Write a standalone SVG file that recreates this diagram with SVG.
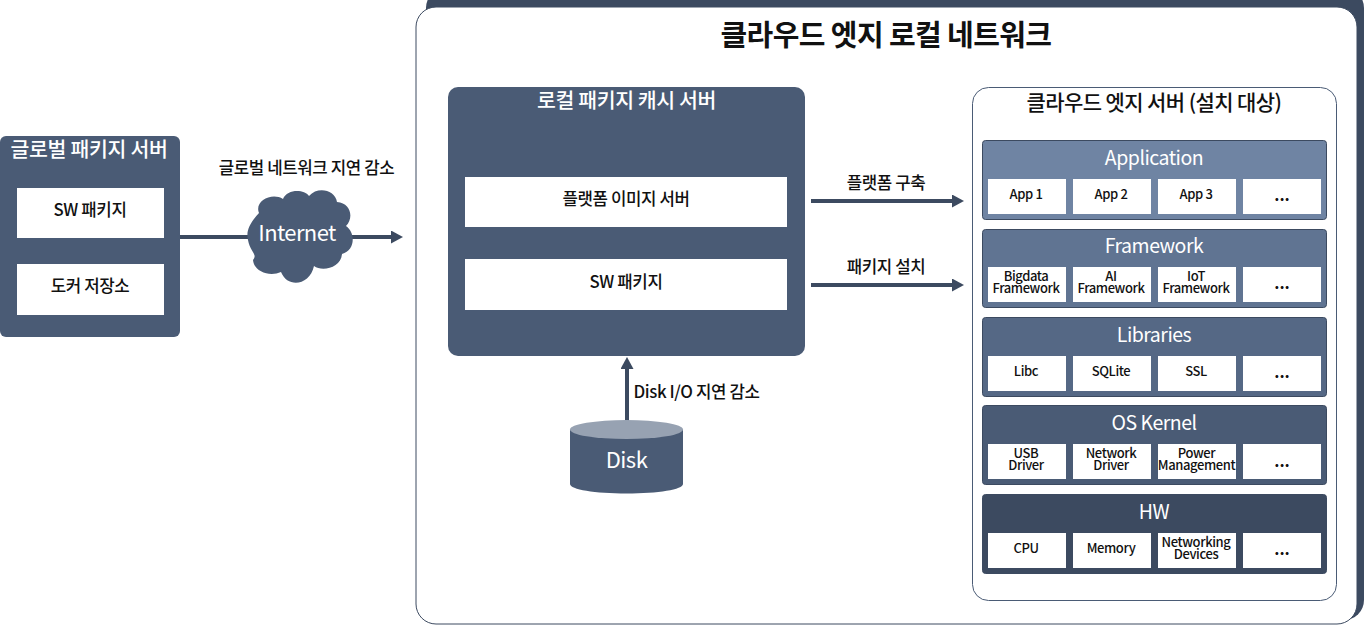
<svg xmlns="http://www.w3.org/2000/svg" width="1364" height="625" viewBox="0 0 1364 625">
<defs>
<style>
text{font-family:"Noto Sans CJK KR","Noto Sans",sans-serif;text-anchor:middle;font-weight:500;fill:#111}
.cell{fill:#fff}
.layer{stroke:#3c4a60;stroke-width:1}
.t{font-size:13px;letter-spacing:-.4px}
.lt{font-size:19.500px;letter-spacing:-.5px;fill:#fff;font-weight:400}
.md{font-size:16.800px;letter-spacing:-.4px}
.line{stroke:#3c4a60;stroke-width:4;fill:none}
.dots{font-size:16px;font-weight:700}
</style>
<marker id="ah" markerUnits="userSpaceOnUse" markerWidth="13" markerHeight="14" refX="1" refY="6.500" orient="auto"><path d="M0 0L12 6.500L0 13Z" fill="#3c4a60"/></marker>
</defs>
<rect width="1364" height="625" fill="#fff"/>
<g id="edge-network">
<rect x="426" y="-12" width="938" height="632" rx="20" fill="#3c4a60"/>
<rect x="416" y="7" width="941" height="617" rx="20" fill="#fff" stroke="#3c4a60" stroke-width="1"/>
<text x="886" y="46" style="font-weight:700;font-size:29px;letter-spacing:-.6px">클라우드 엣지 로컬 네트워크</text>
</g>
<g id="connectors">
<path class="line" d="M180 237H392" marker-end="url(#ah)"/>
<path class="line" d="M811 201H953" marker-end="url(#ah)"/>
<path class="line" d="M811 285H953" marker-end="url(#ah)"/>
<path class="line" d="M627 421V368" marker-end="url(#ah)"/>
</g>
<g id="global-server">
<rect x="0" y="136" width="180" height="201" rx="6" fill="#4a5b75"/>
<text x="89" y="157" style="font-size:20.500px;letter-spacing:-.3px;fill:#fff">글로벌 패키지 서버</text>
<rect class="cell" x="17" y="188" width="147" height="50"/>
<text x="90" y="216" class="md">SW 패키지</text>
<rect class="cell" x="17" y="264" width="147" height="51"/>
<text x="90" y="292" class="md">도커 저장소</text>
</g>
<g id="global-latency"><text x="306.500" y="174" class="md">글로벌 네트워크 지연 감소</text></g>
<g id="internet">
<path d="M259 213C254 201 272 192 283 199C287 189 304 189 309 196C318 186 335 190 337 202C351 203 354 218 346 226C356 233 355 251 342 254C341 268 322 272 314 266C310 285 288 289 281 272C270 277 254 272 253 260C258 254 250 252 248 240C246 231 249 224 259 213Z" fill="#4a5b75"/>
<text x="297" y="241" style="font-size:22px;letter-spacing:-.6px;fill:#fff;font-weight:400">Internet</text>
</g>
<g id="local-cache">
<rect x="448" y="87" width="357" height="269" rx="10" fill="#4a5b75"/>
<text x="626.500" y="108" style="font-size:20.500px;letter-spacing:-.4px;fill:#fff">로컬 패키지 캐시 서버</text>
<rect class="cell" x="465" y="177" width="322" height="50"/>
<text x="626" y="205" class="md">플랫폼 이미지 서버</text>
<rect class="cell" x="465" y="259" width="322" height="51"/>
<text x="626" y="288" class="md">SW 패키지</text>
</g>
<g id="label-build"><text x="886" y="189" class="md">플랫폼 구축</text></g>
<g id="label-install"><text x="886" y="273" class="md">패키지 설치</text></g>
<g id="label-disk"><text x="696.500" y="398" class="md">Disk I/O 지연 감소</text></g>
<g id="disk">
<path d="M570 429.500V484C570 489.500 595 493.500 626.500 493.500S683 489.500 683 484V429.500Z" fill="#4a5b75"/>
<ellipse cx="626.500" cy="429.500" rx="56.500" ry="9.500" fill="#97a2b2"/>
<text x="626.500" y="468" style="font-size:22px;letter-spacing:-.5px;fill:#fff;font-weight:400">Disk</text>
</g>
<g id="edge-server">
<rect x="972.500" y="87.500" width="364" height="513" rx="16" fill="#fff" stroke="#4a5b75"/>
<text x="1154" y="110" style="font-size:21px;letter-spacing:-.6px">클라우드 엣지 서버 (설치 대상)</text>
</g>
<g id="application">
<rect class="layer" x="982.500" y="140.500" width="344" height="79" rx="3" fill="#6f84a3"/>
<text class="lt" x="1154" y="165">Application</text>
<rect class="cell" x="988" y="179" width="78" height="35"/><rect class="cell" x="1073" y="179" width="78" height="35"/><rect class="cell" x="1158" y="179" width="78" height="35"/><rect class="cell" x="1243" y="179" width="78" height="35"/>
<text class="t" x="1026" y="199">App 1</text><text class="t" x="1111" y="199">App 2</text><text class="t" x="1196" y="199">App 3</text><text class="dots" x="1282" y="201">...</text>
</g>
<g id="framework">
<rect class="layer" x="982.500" y="229.500" width="344" height="78" rx="3" fill="#607492"/>
<text class="lt" x="1154" y="253">Framework</text>
<rect class="cell" x="988" y="267" width="78" height="35"/><rect class="cell" x="1073" y="267" width="78" height="35"/><rect class="cell" x="1158" y="267" width="78" height="35"/><rect class="cell" x="1243" y="267" width="78" height="35"/>
<text class="t" x="1026" y="281">Bigdata</text><text class="t" x="1026" y="293">Framework</text>
<text class="t" x="1111" y="281">AI</text><text class="t" x="1111" y="293">Framework</text>
<text class="t" x="1196" y="281">IoT</text><text class="t" x="1196" y="293">Framework</text>
<text class="dots" x="1282" y="289">...</text>
</g>
<g id="libraries">
<rect class="layer" x="982.500" y="317.500" width="344" height="79" rx="3" fill="#556885"/>
<text class="lt" x="1154" y="342">Libraries</text>
<rect class="cell" x="988" y="356" width="78" height="35"/><rect class="cell" x="1073" y="356" width="78" height="35"/><rect class="cell" x="1158" y="356" width="78" height="35"/><rect class="cell" x="1243" y="356" width="78" height="35"/>
<text class="t" x="1026" y="376">Libc</text><text class="t" x="1111" y="376">SQLite</text><text class="t" x="1196" y="376">SSL</text><text class="dots" x="1282" y="378">...</text>
</g>
<g id="os-kernel">
<rect class="layer" x="982.500" y="405.500" width="344" height="79" rx="3" fill="#4a5b75"/>
<text class="lt" x="1154" y="430">OS Kernel</text>
<rect class="cell" x="988" y="444" width="78" height="35"/><rect class="cell" x="1073" y="444" width="78" height="35"/><rect class="cell" x="1158" y="444" width="78" height="35"/><rect class="cell" x="1243" y="444" width="78" height="35"/>
<text class="t" x="1026" y="458">USB</text><text class="t" x="1026" y="470">Driver</text>
<text class="t" x="1111" y="458">Network</text><text class="t" x="1111" y="470">Driver</text>
<text class="t" x="1196.500" y="458">Power</text><text class="t" x="1196.500" y="470">Management</text>
<text class="dots" x="1282" y="467">...</text>
</g>
<g id="hw">
<rect class="layer" x="982.500" y="494.500" width="344" height="79" rx="3" fill="#3c4a60"/>
<text class="lt" x="1154" y="519">HW</text>
<rect class="cell" x="988" y="533" width="78" height="35"/><rect class="cell" x="1073" y="533" width="78" height="35"/><rect class="cell" x="1158" y="533" width="78" height="35"/><rect class="cell" x="1243" y="533" width="78" height="35"/>
<text class="t" x="1026" y="553">CPU</text><text class="t" x="1111" y="553">Memory</text>
<text class="t" x="1196" y="547">Networking</text><text class="t" x="1196" y="559">Devices</text>
<text class="dots" x="1282" y="555">...</text>
</g>
</svg>
